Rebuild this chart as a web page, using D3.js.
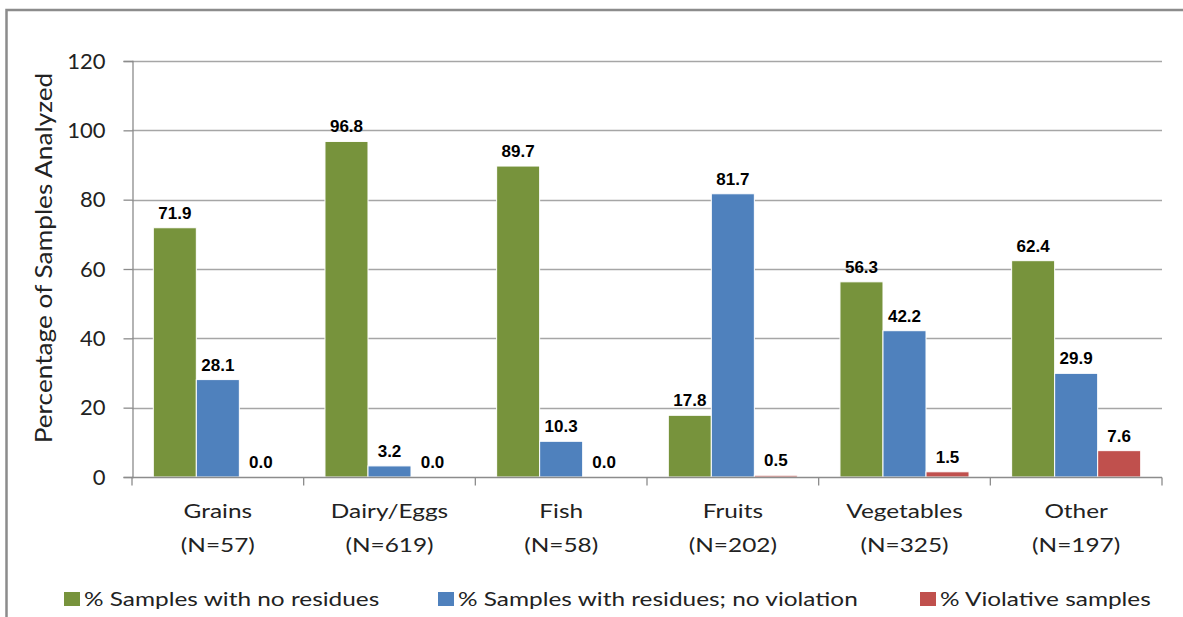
<!DOCTYPE html>
<html><head><meta charset="utf-8">
<script src="https://cdn.jsdelivr.net/npm/d3@7"></script>
<style>body{margin:0;background:#fff}svg{display:block}</style>
</head><body>
<script>
const categories = ["Grains","Dairy/Eggs","Fish","Fruits","Vegetables","Other"];
const counts = ["(N=57)","(N=619)","(N=58)","(N=202)","(N=325)","(N=197)"];
const seriesNames = ["% Samples with no residues","% Samples with residues; no violation","% Violative samples"];
const noResidues = [71.9,96.8,89.7,17.8,56.3,62.4];
const residuesNoViolation = [28.1,3.2,10.3,81.7,42.2,29.9];
const violative = [0.0,0.0,0.0,0.5,1.5,7.6];
const yTicks = [0,20,40,60,80,100,120];
const colors = ["#77933C","#4F81BD","#C0504D"];

const W=1183,H=617;
const svg=d3.select("body").append("svg").attr("width",W).attr("height",H);
svg.append("rect").attr("x",6.5).attr("y",10).attr("width",1200).attr("height",700)
  .attr("fill","none").attr("stroke","#8c8c8c").attr("stroke-width",2.5);

const L=132,R=1162,T=61,B=477;
const SX=1.22;
const x=d3.scaleBand().domain(categories).range([L,R]).paddingInner(0).paddingOuter(0);
const xi=d3.scaleBand().domain([0,1,2]).range([21.3,x.bandwidth()-21.3]);
const y=d3.scaleLinear().domain([0,120]).range([B,T]);
const tickFont="Lato, 'Open Sans', sans-serif";

// grid
svg.append("g").selectAll("line").data(yTicks.filter(d=>d>0)).join("line")
  .attr("x1",L).attr("x2",R).attr("y1",d=>Math.round(y(d))+0.5).attr("y2",d=>Math.round(y(d))+0.5)
  .attr("stroke","#a6a6a6").attr("stroke-width",1.3);

const series=[noResidues,residuesNoViolation,violative];
series.forEach((s,si)=>{
  const g=svg.append("g");
  g.selectAll("rect").data(s).join("rect")
    .attr("x",(d,i)=>x(categories[i])+xi(si))
    .attr("width",xi.bandwidth())
    .attr("y",d=>y(d)).attr("height",d=>B-y(d))
    .attr("fill",colors[si]).attr("stroke","#fff").attr("stroke-width",1);
  g.selectAll("text").data(s).join("text")
    .attr("x",(d,i)=>x(categories[i])+xi(si)+xi.bandwidth()/2)
    .attr("y",d=>y(d)-9)
    .attr("text-anchor","middle")
    .attr("font-family","'Liberation Sans', Arial, sans-serif").attr("font-weight","bold")
    .attr("font-size",17).attr("fill","#000")
    .text(d=>d.toFixed(1));
});

// y axis
const yAxis=d3.axisLeft(y).tickValues(yTicks).tickSize(9).tickPadding(18);
const ya=svg.append("g").attr("transform",`translate(${L+0.5},0)`).call(yAxis);
ya.select(".domain").attr("stroke","#8c8c8c").attr("stroke-width",1.3);
ya.selectAll(".tick line").attr("stroke","#8c8c8c").attr("stroke-width",1.3);
ya.selectAll(".tick text").attr("font-family",tickFont).attr("font-size",22).attr("fill","#222");

// x axis
const xa=svg.append("g").attr("transform",`translate(0,${B+0.5})`);
xa.append("line").attr("x1",L).attr("x2",R).attr("stroke","#8c8c8c").attr("stroke-width",1.3);
xa.selectAll("line.t").data(categories.map(c=>x(c)).concat([R])).join("line").attr("class","t")
  .attr("x1",d=>d).attr("x2",d=>d).attr("y1",0).attr("y2",8).attr("stroke","#8c8c8c").attr("stroke-width",1.3);
const cg=xa.selectAll("g.cat").data(categories).join("g").attr("class","cat")
  .attr("transform",d=>`translate(${x(d)+x.bandwidth()/2},0) scale(${SX},1)`);
const cl=cg.append("text").attr("text-anchor","middle")
  .attr("font-family",tickFont).attr("font-size",20).attr("fill","#222");
cl.append("tspan").attr("x",0).attr("y",41).text(d=>d);
cl.append("tspan").attr("x",0).attr("y",75).text((d,i)=>counts[i]);

// y title
svg.append("text").attr("transform","translate(52,258) rotate(-90) scale(1.14,1)").attr("text-anchor","middle")
  .attr("font-family",tickFont).attr("font-size",23).attr("fill","#222").text("Percentage of Samples Analyzed");

// legend
const legX=[64,438,920];
const lg=svg.append("g").selectAll("g").data(seriesNames).join("g")
  .attr("transform",(d,i)=>`translate(${legX[i]},592)`);
lg.append("rect").attr("width",16).attr("height",14).attr("fill",(d,i)=>colors[i]);
lg.append("g").attr("transform",`translate(20,14) scale(${SX},1)`)
  .append("text").attr("x",0).attr("y",0).attr("font-family",tickFont).attr("font-size",20).attr("fill","#222").text(d=>d);
</script>
</body></html>
